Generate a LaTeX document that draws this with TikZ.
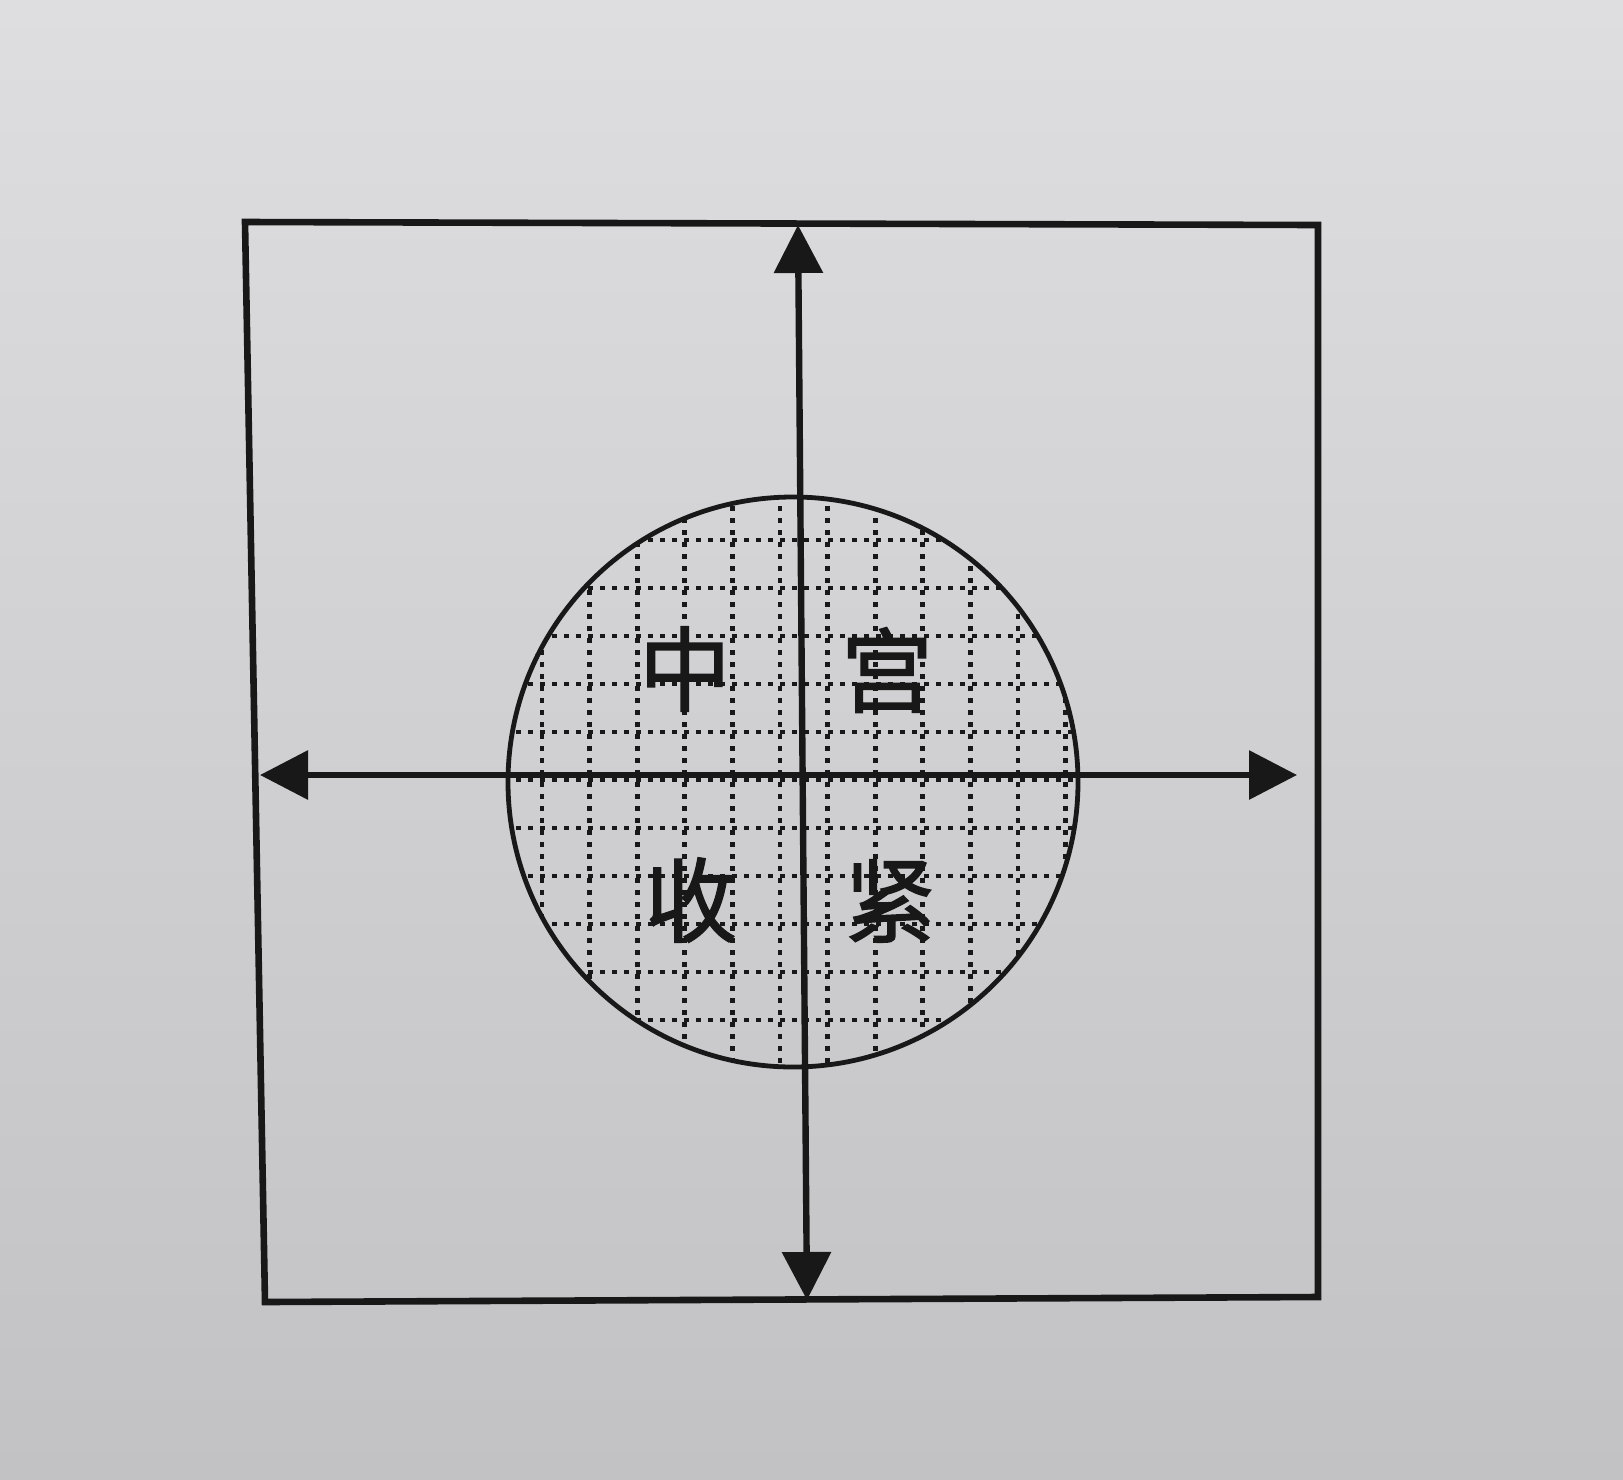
\documentclass[tikz,border=0pt]{standalone}
\usepackage{fontspec}
\newfontfamily\cjk[FakeBold=1.6]{Noto Sans CJK SC}
\usetikzlibrary{arrows.meta}
\definecolor{ink}{RGB}{24,24,24}
\definecolor{bgtop}{RGB}{222,222,224}
\definecolor{bgbot}{RGB}{194,194,196}
\tikzset{
  frame/.style={draw=ink, line width=3.3pt, line join=miter},
  dotgrid/.style={draw=ink, line width=2.4pt, dash pattern=on 2.6pt off 3.4pt},
  axisline/.style={draw=ink, line width=3.2pt,
    {Triangle[length=24pt,width=24pt]}-{Triangle[length=24pt,width=24pt]}},
  hanzi/.style={font=\cjk\fontsize{46pt}{46pt}\selectfont, text=ink, inner sep=0pt},
  disc/.style={draw=ink, circle, line width=2.4pt, minimum size=285pt, inner sep=0pt}
}
\begin{document}
\begin{tikzpicture}[x=0.5pt,y=-0.5pt]
\shade[top color=bgtop,bottom color=bgbot] (0,0) rectangle (1623,1479);
\useasboundingbox (0,0) rectangle (1623,1479);
% frame
\draw[frame] (245,222) -- (1318,225) -- (1318,1297) -- (265,1302) -- cycle;
% dotted grid inside the disc
\begin{scope}
  \clip (793,782) circle [radius=285];
  \foreach \i in {0,...,11} \draw[dotgrid] ({542+47.6*\i},470) -- ++(0,640);
  \foreach \j in {0,...,10} \draw[dotgrid] (480,{540+48*\j}) -- ++(640,0);
\end{scope}
\node[disc] (circ) at (793,782) {};
% axes
\coordinate (top) at (798,225);
\coordinate (bot) at (807,1300);
\coordinate (lft) at (260,775);
\coordinate (rgt) at (1297,775);
\draw[axisline] (bot) -- (top);
\draw[axisline] (lft) -- (rgt);
% characters
\node[hanzi] (zhong) at (685,669) {中};
\node[hanzi] (gong) at (887,670) {宫};
\node[hanzi] (shou) at (691,900) {收};
\node[hanzi] (jin) at (890,901) {紧};
\end{tikzpicture}
\end{document}
